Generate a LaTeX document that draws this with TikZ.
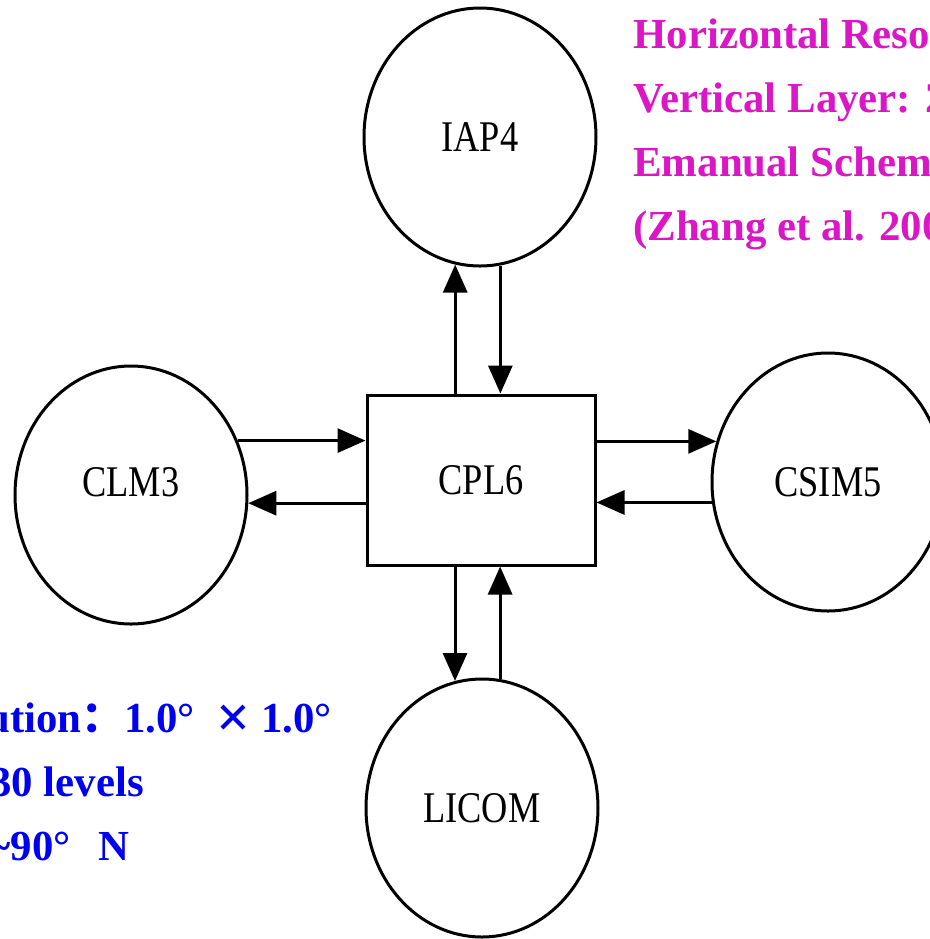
\documentclass[tikz,border=0pt]{standalone}
\usepackage{fontspec}
\setmainfont{Liberation Serif}
\newfontfamily\labelfont[FakeStretch=0.83]{Liberation Serif}
\newfontfamily\cjk{Noto Sans CJK SC}
\usepackage{tikz}
\usetikzlibrary{shapes.geometric, arrows.meta, positioning, calc}
\definecolor{resomagenta}{RGB}{218,22,198}
\definecolor{resoblue}{RGB}{0,0,240}
\tikzset{
  modelnode/.style={
    ellipse, draw, line width=1.5pt, inner sep=0pt,
    minimum width=116pt, minimum height=129pt,
    font=\labelfont\fontsize{21.9}{24}\selectfont
  },
  couplerblock/.style={
    rectangle, draw, line width=1.5pt, inner sep=0pt,
    minimum width=114pt, minimum height=85pt,
    font=\labelfont\fontsize{21.9}{24}\selectfont
  },
  flowarrow/.style={
    line width=1.5pt, ->, >={Triangle[length=14pt, width=12pt]}
  },
  infotext/.style={
    anchor=base west, inner sep=0pt, font=\bfseries\fontsize{21.4}{26}\selectfont
  }
}

\begin{document}
\begin{tikzpicture}[x=0.5pt, y=-0.5pt]
  \useasboundingbox (0,0) rectangle (930,939);
  \clip (0,0) rectangle (930,939);

  \node[couplerblock] (cpl) at (481,480) {CPL6};
  \node[modelnode] (iap) at (480,137) {IAP4};
  \node[modelnode, text depth=13pt] (clm) at (131,495) {CLM3};
  \node[modelnode] (csim) at (828,482) {CSIM5};
  \node[modelnode] (licom) at (482,808) {LICOM};

  \draw[flowarrow] (iap.259 |- cpl.north) -- (iap.259);
  \draw[flowarrow] (iap.279) -- (iap.279 |- cpl.north);
  \draw[flowarrow] (clm.27) -- (clm.27 -| cpl.west);
  \draw[flowarrow] (clm.-4 -| cpl.west) -- (clm.-4);
  \draw[flowarrow] (csim.160 -| cpl.east) -- (csim.160);
  \draw[flowarrow] (csim.190) -- (csim.190 -| cpl.east);
  \draw[flowarrow] (licom.102 |- cpl.south) -- (licom.102);
  \draw[flowarrow] (licom.82) -- (licom.82 |- cpl.south);

  % atmosphere settings
  \node[infotext, text=resomagenta] (hres) at (633,48) {Horizontal Reso};
  \node[infotext, text=resomagenta] (vlay) at (633,112) {Vertical Layer: 2};
  \node[infotext, text=resomagenta] (scheme) at (633,176) {Emanual Schem};
  \node[infotext, text=resomagenta] (zhang) at (633,240) {(Zhang et al. 200};

  % ocean settings
  \node[infotext, text=resoblue] (ores) at (-14,732)
    {ution{\cjk：}1.0°\hspace{11pt}\raisebox{-2.5pt}{\fontsize{30}{30}\selectfont ×}\hspace{5pt}1.0°};
  \node[infotext, text=resoblue] (olev) at (-10,796) {30 levels};
  \node[infotext, text=resoblue] (olat) at (-12,860) {\textasciitilde 90°\hspace{14pt}N};
\end{tikzpicture}
\end{document}
